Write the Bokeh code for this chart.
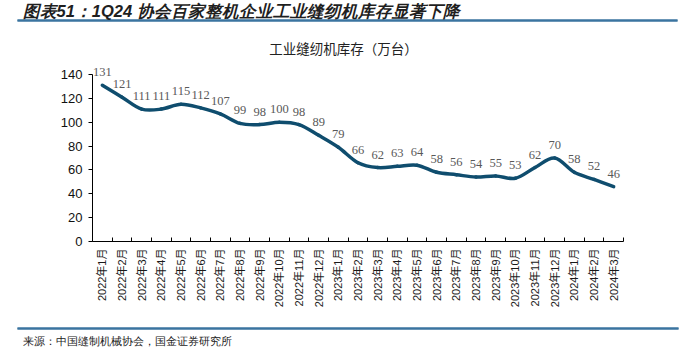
from bokeh.plotting import figure
from bokeh.layouts import column
from bokeh.models import Label, FixedTicker, ColumnDataSource, LabelSet
from bokeh.embed import file_html
from bokeh.resources import INLINE

months = ["2022年1月", "2022年2月", "2022年3月", "2022年4月", "2022年5月", "2022年6月",
          "2022年7月", "2022年8月", "2022年9月", "2022年10月", "2022年11月", "2022年12月",
          "2023年1月", "2023年2月", "2023年3月", "2023年4月", "2023年5月", "2023年6月",
          "2023年7月", "2023年8月", "2023年9月", "2023年10月", "2023年11月", "2023年12月",
          "2024年1月", "2024年2月", "2024年3月"]
inventory = [131, 121, 111, 111, 115, 112, 107, 99, 98, 100, 98, 89,
             79, 66, 62, 63, 64, 58, 56, 54, 55, 53, 62, 70,
             58, 52, 46]
y_ticks = [0, 20, 40, 60, 80, 100, 120, 140]

header = "图表51：1Q24 协会百家整机企业工业缝纫机库存显著下降"
subtitle = "工业缝纫机库存（万台）"
source_note = "来源：中国缝制机械协会，国金证券研究所"

LAT = "'Liberation Sans', 'Noto Sans CJK SC'"
CJK = "'Noto Sans CJK SC'"
LINE_C = "#0f4d6e"
RULE_C = "#3a74a0"
W = 686


def strip(height):
    # pixel-space strip: data coordinates equal canvas pixels (y downwards)
    f = figure(width=W, height=height, frame_width=W, frame_height=height,
               min_border=0, x_range=(0, W), y_range=(height, 0),
               x_axis_type=None, y_axis_type=None, frame_align=False,
               output_backend="svg", toolbar_location=None, tools="")
    f.outline_line_color = None
    f.border_fill_color = "white"
    f.background_fill_color = "white"
    return f


# header strip (canvas y 0..30)
top = strip(30)
top.quad(left=[17], right=[677], top=[19], bottom=[21], fill_color=RULE_C, line_color=None)
top.line(x=[17, 677], y=[20, 20], line_color=RULE_C, line_width=2)
top.add_layout(Label(x=22, y=10, x_units="canvas", y_units="canvas", text=header,
                     text_font_size="16.5px", text_font_style="bold italic",
                     text_color="#1f1f1f", text_baseline="middle", text_align="left"))

# main chart (canvas y 30..322)
xs = list(range(1, len(inventory) + 1))
n = len(inventory)
FRAME_H = 211          # frame from canvas y 30 to 241
PLOT_H = 167           # pixel height of 0..140
y_top = 140 * FRAME_H / PLOT_H

p = figure(width=W, height=292, frame_width=531, frame_height=FRAME_H,
           min_border_left=92, min_border_right=63, min_border_top=0, min_border_bottom=81,
           x_range=(0.5, n + 0.5), y_range=(0, y_top), frame_align=False,
           output_backend="svg", toolbar_location=None, tools="")
p.outline_line_color = None
p.xgrid.visible = False
p.ygrid.visible = False
p.background_fill_color = None
p.border_fill_color = None

# smooth line via Catmull-Rom -> Bezier
x0s, y0s, x1s, y1s, cx0, cy0, cx1, cy1 = [], [], [], [], [], [], [], []
for i in range(n - 1):
    a = max(i - 1, 0)
    d = min(i + 2, n - 1)
    xa, ya = xs[a], inventory[a]
    xb, yb = xs[i], inventory[i]
    xc, yc = xs[i + 1], inventory[i + 1]
    xd, yd = xs[d], inventory[d]
    x0s.append(xb); y0s.append(yb); x1s.append(xc); y1s.append(yc)
    cx0.append(xb + (xc - xa) / 6); cy0.append(yb + (yc - ya) / 6)
    cx1.append(xc - (xd - xb) / 6); cy1.append(yc - (yd - yb) / 6)
bsrc = ColumnDataSource(dict(x0=x0s, y0=y0s, x1=x1s, y1=y1s, cx0=cx0, cy0=cy0, cx1=cx1, cy1=cy1))
p.bezier(x0="x0", y0="y0", x1="x1", y1="y1", cx0="cx0", cy0="cy0", cx1="cx1", cy1="cy1",
         source=bsrc, line_color=LINE_C, line_width=3.5, line_cap="round")

lsrc = ColumnDataSource(dict(x=xs, y=inventory, t=[str(v) for v in inventory]))
p.add_layout(LabelSet(x="x", y="y", text="t", source=lsrc, y_offset=9, text_align="center",
                      text_baseline="bottom", text_font=LAT, text_font_size="12.5px",
                      text_color="#595959"))

p.add_layout(Label(x=343, y=17, x_units="canvas", y_units="canvas", text=subtitle,
                   text_font=CJK, text_font_size="13.5px", text_color="#222222",
                   text_baseline="middle", text_align="center"))

# axes
xa_ = p.xaxis[0]
xa_.ticker = FixedTicker(ticks=xs, minor_ticks=[i + 0.5 for i in range(0, n + 1)])
xa_.major_label_overrides = {x: m for x, m in zip(xs, months)}
xa_.major_label_orientation = 3.14159265 / 2
xa_.major_tick_in = 0
xa_.major_tick_out = 0
xa_.minor_tick_in = 4
xa_.minor_tick_out = 0
xa_.minor_tick_line_color = "black"
xa_.axis_line_color = "black"
xa_.major_label_text_font = LAT
xa_.major_label_text_font_size = "11px"
xa_.major_label_text_color = "#1a1a1a"
xa_.major_label_standoff = 7

ya_ = p.yaxis[0]
ya_.ticker = FixedTicker(ticks=y_ticks)
ya_.bounds = (0, 140)
ya_.major_tick_in = 0
ya_.major_tick_out = 4
ya_.minor_tick_line_color = None
ya_.axis_line_color = "black"
ya_.major_tick_line_color = "black"
ya_.major_label_text_font = LAT
ya_.major_label_text_font_size = "13px"
ya_.major_label_text_color = "#111111"
ya_.major_label_standoff = 6

# footer strip (canvas y 322..356)
bot = strip(34)
bot.quad(left=[17], right=[678], top=[5], bottom=[7], fill_color=RULE_C, line_color=None)
bot.line(x=[17, 678], y=[6, 6], line_color=RULE_C, line_width=2)
bot.add_layout(Label(x=22, y=18, x_units="canvas", y_units="canvas", text=source_note,
                     text_font_size="10.5px", text_color="#222222",
                     text_baseline="middle", text_align="left"))

layout = column(top, p, bot, spacing=0)
open("out.html", "w").write(file_html(layout, INLINE))
